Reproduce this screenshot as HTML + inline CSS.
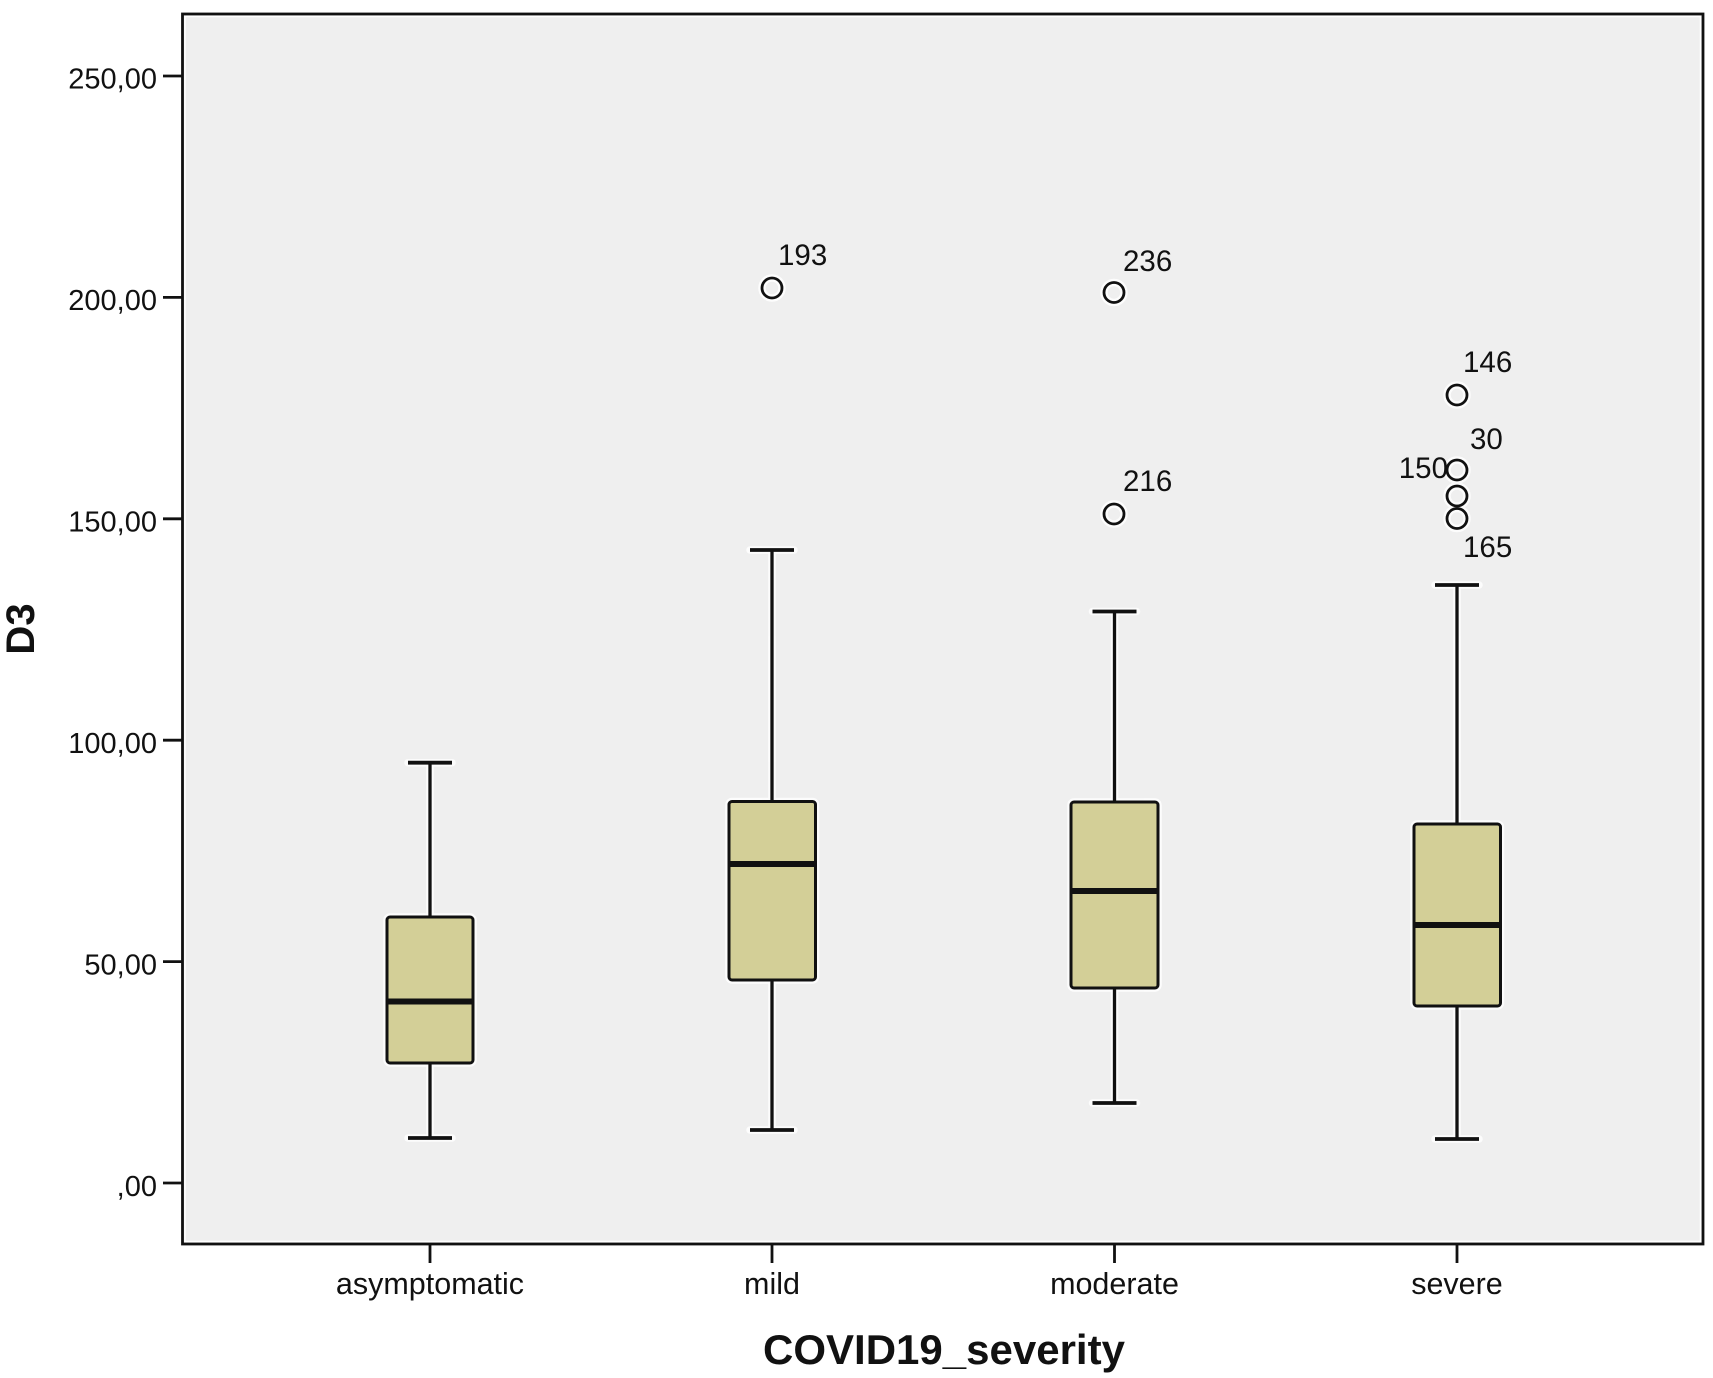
<!DOCTYPE html>
<html>
<head>
<meta charset="utf-8">
<style>
  html, body { margin: 0; padding: 0; background: #ffffff; }
  svg { display: block; }
  text { font-family: "Liberation Sans", Arial, sans-serif; fill: #111; }
</style>
</head>
<body>
<svg width="1713" height="1378" viewBox="0 0 1713 1378" xmlns="http://www.w3.org/2000/svg">
  <rect x="0" y="0" width="1713" height="1378" fill="#ffffff"/>
  <!-- plot area -->
  <rect x="182.5" y="14" width="1520.5" height="1230" fill="#efefef"/>
  <rect x="185" y="16.5" width="1515.5" height="1225" fill="none" stroke="#ffffff" stroke-width="1.5"/>
  <rect x="182.5" y="14" width="1520.5" height="1230" fill="none" stroke="#111" stroke-width="2.8"/>

  <!-- y ticks -->
  <g stroke="#111" stroke-width="2.8">
    <line x1="163" y1="76" x2="182.5" y2="76"/>
    <line x1="163" y1="297.4" x2="182.5" y2="297.4"/>
    <line x1="163" y1="518.8" x2="182.5" y2="518.8"/>
    <line x1="163" y1="740.2" x2="182.5" y2="740.2"/>
    <line x1="163" y1="961.6" x2="182.5" y2="961.6"/>
    <line x1="163" y1="1183" x2="182.5" y2="1183"/>
  </g>
  <g font-size="29" text-anchor="end">
    <text x="157" y="88.5">250,00</text>
    <text x="157" y="310">200,00</text>
    <text x="157" y="531.5">150,00</text>
    <text x="157" y="753">100,00</text>
    <text x="157" y="974.5">50,00</text>
    <text x="157" y="1196">,00</text>
  </g>

  <!-- x ticks -->
  <g stroke="#111" stroke-width="2.8">
    <line x1="430" y1="1244" x2="430" y2="1263"/>
    <line x1="772" y1="1244" x2="772" y2="1263"/>
    <line x1="1114.5" y1="1244" x2="1114.5" y2="1263"/>
    <line x1="1457" y1="1244" x2="1457" y2="1263"/>
  </g>
  <g font-size="30.5" text-anchor="middle">
    <text x="430" y="1294">asymptomatic</text>
    <text x="772" y="1294">mild</text>
    <text x="1114.5" y="1294">moderate</text>
    <text x="1457" y="1294">severe</text>
  </g>

  <!-- axis titles -->
  <text x="944" y="1364" font-size="42" font-weight="bold" text-anchor="middle">COVID19_severity</text>
  <text transform="translate(34,629) rotate(-90)" font-size="40" font-weight="bold" text-anchor="middle">D3</text>

  <!-- white halos -->
  <g stroke="#ffffff" stroke-width="7.5" fill="none" stroke-linecap="round" opacity="0.85">
    <line x1="430" y1="762.7" x2="430" y2="1138"/>
    <line x1="408" y1="762.7" x2="452" y2="762.7"/>
    <line x1="408" y1="1138" x2="452" y2="1138"/>
    <rect x="387" y="917" width="86" height="146" rx="3"/>
    <line x1="772" y1="550" x2="772" y2="1130"/>
    <line x1="750" y1="550" x2="794" y2="550"/>
    <line x1="750" y1="1130" x2="794" y2="1130"/>
    <rect x="729" y="801.5" width="86.5" height="178.5" rx="3"/>
    <line x1="1114.5" y1="611.5" x2="1114.5" y2="1103"/>
    <line x1="1092.5" y1="611.5" x2="1136.5" y2="611.5"/>
    <line x1="1092.5" y1="1103" x2="1136.5" y2="1103"/>
    <rect x="1071" y="802" width="87" height="186" rx="3"/>
    <line x1="1457" y1="585" x2="1457" y2="1139"/>
    <line x1="1435" y1="585" x2="1479" y2="585"/>
    <line x1="1435" y1="1139" x2="1479" y2="1139"/>
    <rect x="1414" y="824" width="86.5" height="182" rx="3"/>
    <circle cx="772" cy="288" r="10"/>
    <circle cx="1114" cy="292.5" r="10"/>
    <circle cx="1114" cy="514" r="10"/>
    <circle cx="1457" cy="395" r="10"/>
    <circle cx="1457" cy="470" r="10"/>
    <circle cx="1457" cy="496" r="10"/>
    <circle cx="1457" cy="518.5" r="10"/>
  </g>

  <!-- asymptomatic -->
  <g stroke="#111" fill="none">
    <line x1="430" y1="762.7" x2="430" y2="1138" stroke-width="3.3"/>
    <line x1="408" y1="762.7" x2="452" y2="762.7" stroke-width="3.8"/>
    <line x1="408" y1="1138" x2="452" y2="1138" stroke-width="3.8"/>
    <rect x="387" y="917" width="86" height="146" rx="3" fill="#d3cf97" stroke-width="3"/>
    <line x1="387" y1="1001.5" x2="473" y2="1001.5" stroke-width="6"/>
  </g>
  <!-- mild -->
  <g stroke="#111" fill="none">
    <line x1="772" y1="550" x2="772" y2="1130" stroke-width="3.3"/>
    <line x1="750" y1="550" x2="794" y2="550" stroke-width="3.8"/>
    <line x1="750" y1="1130" x2="794" y2="1130" stroke-width="3.8"/>
    <rect x="729" y="801.5" width="86.5" height="178.5" rx="3" fill="#d3cf97" stroke-width="3"/>
    <line x1="729" y1="864" x2="815.5" y2="864" stroke-width="6"/>
    <circle cx="772" cy="288" r="10" stroke-width="2.8"/>
  </g>
  <!-- moderate -->
  <g stroke="#111" fill="none">
    <line x1="1114.5" y1="611.5" x2="1114.5" y2="1103" stroke-width="3.3"/>
    <line x1="1092.5" y1="611.5" x2="1136.5" y2="611.5" stroke-width="3.8"/>
    <line x1="1092.5" y1="1103" x2="1136.5" y2="1103" stroke-width="3.8"/>
    <rect x="1071" y="802" width="87" height="186" rx="3" fill="#d3cf97" stroke-width="3"/>
    <line x1="1071" y1="891" x2="1158" y2="891" stroke-width="6"/>
    <circle cx="1114" cy="292.5" r="10" stroke-width="2.8"/>
    <circle cx="1114" cy="514" r="10" stroke-width="2.8"/>
  </g>
  <!-- severe -->
  <g stroke="#111" fill="none">
    <line x1="1457" y1="585" x2="1457" y2="1139" stroke-width="3.3"/>
    <line x1="1435" y1="585" x2="1479" y2="585" stroke-width="3.8"/>
    <line x1="1435" y1="1139" x2="1479" y2="1139" stroke-width="3.8"/>
    <rect x="1414" y="824" width="86.5" height="182" rx="3" fill="#d3cf97" stroke-width="3"/>
    <line x1="1414" y1="925" x2="1500.5" y2="925" stroke-width="6"/>
    <circle cx="1457" cy="395" r="10" stroke-width="2.8"/>
    <circle cx="1457" cy="470" r="10" stroke-width="2.8"/>
    <circle cx="1457" cy="496" r="10" stroke-width="2.8"/>
    <circle cx="1457" cy="518.5" r="10" stroke-width="2.8"/>
  </g>

  <!-- outlier labels -->
  <g font-size="29.5">
    <text x="778" y="265">193</text>
    <text x="1123" y="271">236</text>
    <text x="1123" y="491">216</text>
    <text x="1463" y="372">146</text>
    <text x="1470" y="449">30</text>
    <text x="1448" y="478" text-anchor="end">150</text>
    <text x="1463" y="557">165</text>
  </g>
</svg>
</body>
</html>
